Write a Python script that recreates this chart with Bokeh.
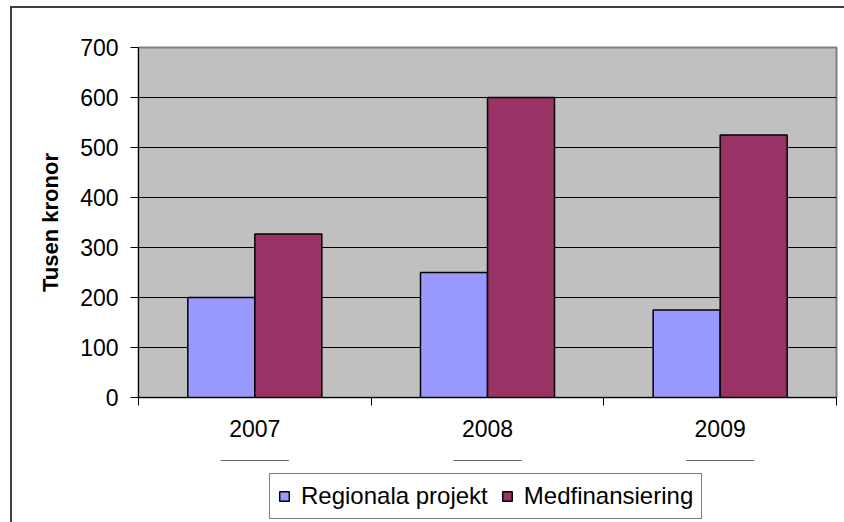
from bokeh.plotting import figure
from bokeh.models import (Range1d, FixedTicker, Legend, LegendItem, ColumnDataSource,
                          InlineStyleSheet, BoxAnnotation)
from bokeh.layouts import column
from bokeh.transform import dodge
from bokeh.embed import file_html
from bokeh.resources import INLINE

years = ["2007", "2008", "2009"]
regionala = [200, 250, 175]
medfin = [327, 600, 525]
y_ticks = [0, 100, 200, 300, 400, 500, 600, 700]
series_names = ["Regionala projekt", "Medfinansiering"]
series_colors = ["#9999FF", "#993366"]

xpos = [i + 0.5 for i in range(len(years))]
src = ColumnDataSource(dict(x=xpos, reg=regionala, med=medfin))

p = figure(width=844, height=460, output_backend="svg", toolbar_location=None,
           x_range=Range1d(0, len(years)), y_range=Range1d(0, 700),
           min_border_left=138, min_border_right=8, min_border_top=47, min_border_bottom=63)

p.background_fill_color = "#C0C0C0"
p.border_fill_color = "white"
p.outline_line_color = "#808080"
p.outline_line_width = 2

bw = 0.288
p.vbar(x=dodge("x", -bw / 2, range=p.x_range), top="reg", width=bw, source=src,
       fill_color=series_colors[0], line_color="black", line_width=1.5)
p.vbar(x=dodge("x", bw / 2, range=p.x_range), top="med", width=bw, source=src,
       fill_color=series_colors[1], line_color="black", line_width=1.5)

# grid
p.xgrid.visible = False
p.ygrid.ticker = FixedTicker(ticks=y_ticks)
p.ygrid.grid_line_color = "black"
p.ygrid.grid_line_width = 1
p.ygrid.level = "underlay"

# y axis
ya = p.yaxis[0]
ya.ticker = FixedTicker(ticks=y_ticks)
ya.major_tick_out = 8
ya.major_tick_in = 0
ya.minor_tick_out = 0
ya.minor_tick_in = 0
ya.major_label_standoff = 12
ya.major_label_text_font = "Liberation Sans"
ya.major_label_text_font_size = "23px"
ya.major_label_text_color = "black"
ya.axis_line_color = "black"
ya.axis_label = "Tusen kronor"
ya.axis_label_text_font = "Liberation Sans"
ya.axis_label_text_font_style = "bold"
ya.axis_label_text_font_size = "22px"
ya.axis_label_text_color = "black"
ya.axis_label_standoff = 14

# x axis
xa = p.xaxis[0]
xa.ticker = FixedTicker(ticks=xpos, minor_ticks=[0, 1, 2, 3])
xa.major_label_overrides = {x: y for x, y in zip(xpos, years)}
xa.major_tick_out = 0
xa.major_tick_in = 0
xa.minor_tick_out = 8
xa.minor_tick_in = 0
xa.minor_tick_line_color = "black"
xa.major_label_standoff = 14
xa.major_label_text_font = "Liberation Sans"
xa.major_label_text_font_size = "23px"
xa.major_label_text_color = "black"
xa.axis_line_color = "black"

# legend strip (same series, hidden behind a white cover so only the legend shows)
lg = figure(width=844, height=62, output_backend="svg", toolbar_location=None,
            x_range=Range1d(0, len(years)), y_range=Range1d(-2000, -1000),
            min_border_left=0, min_border_right=0, min_border_top=0, min_border_bottom=0)
lg.axis.visible = False
lg.grid.visible = False
lg.outline_line_color = None
lg.background_fill_color = "white"
lr1 = lg.vbar(x="x", top="reg", width=bw, source=src, level="underlay",
              fill_color=series_colors[0], line_color="black", line_width=1.5)
lr2 = lg.vbar(x="x", top="med", width=bw, source=src, level="underlay",
              fill_color=series_colors[1], line_color="black", line_width=1.5)
lg.add_layout(BoxAnnotation(fill_color="white", fill_alpha=1, line_color=None))

legend = Legend(items=[LegendItem(label=series_names[0], renderers=[lr1]),
                       LegendItem(label=series_names[1], renderers=[lr2])],
                orientation="horizontal", location=(131, 3))
legend.label_text_font = "Liberation Sans"
legend.label_text_font_size = "24px"
legend.label_text_color = "black"
legend.border_line_color = "black"
legend.border_line_width = 1
legend.background_fill_color = "white"
legend.background_fill_alpha = 1
legend.glyph_width = 12
legend.glyph_height = 12
legend.spacing = 13
legend.padding = 8
legend.label_standoff = 11
legend.margin = 0
lg.add_layout(legend, "center")

layout = column(p, lg, spacing=0)
layout.stylesheets = [InlineStyleSheet(css="""
:host { position: relative; }
:host::after {
  content: ""; position: absolute; left: 10px; top: 6px;
  width: 834px; height: 516px;
  border-left: 2px solid #404040; border-top: 2px solid #404040;
  pointer-events: none; box-sizing: border-box;
}
""")]

open("out.html", "w").write(file_html(layout, INLINE))
